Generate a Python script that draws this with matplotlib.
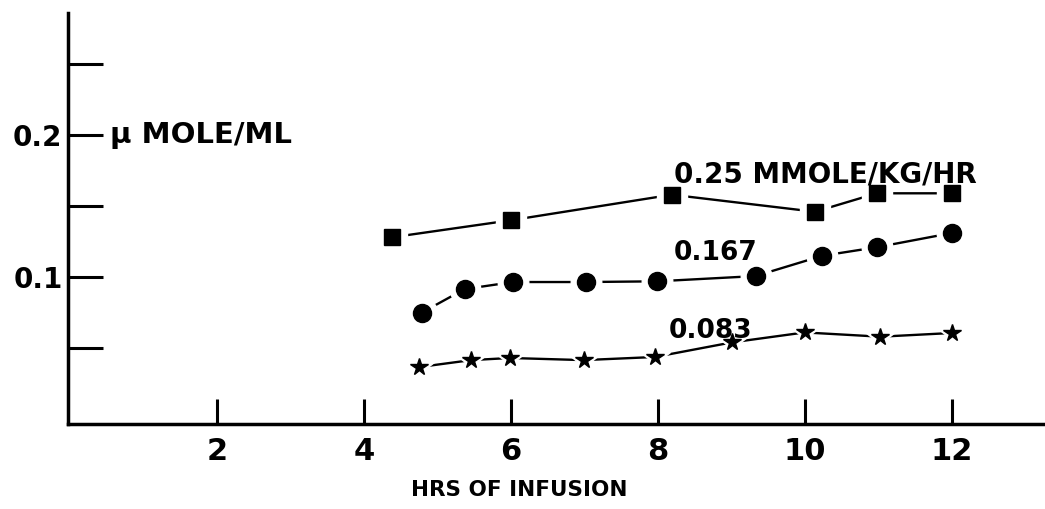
import numpy as np
import matplotlib.pyplot as plt

# hours of infusion and concentration (u mole/ml) for each dose
hrs_25 = [4.38, 6.0, 8.19, 10.14, 10.98, 12.0]
val_25 = [0.128, 0.140, 0.158, 0.146, 0.159, 0.159]

hrs_167 = [4.79, 5.37, 6.03, 7.02, 7.99, 9.33, 10.24, 10.98, 12.0]
val_167 = [0.075, 0.0915, 0.0965, 0.0965, 0.097, 0.1007, 0.115, 0.121, 0.131]

hrs_083 = [4.75, 5.46, 5.99, 6.99, 7.96, 9.01, 10.0, 11.03, 12.0]
val_083 = [0.0366, 0.0415, 0.043, 0.0415, 0.0437, 0.054, 0.061, 0.058, 0.0606]

x_ticks = [2, 4, 6, 8, 10, 12]
y_ticks = [0.05, 0.1, 0.15, 0.2, 0.25]
y_labels = ['', '0.1', '', '0.2', '']

fig = plt.figure(figsize=(10.45, 5.09), dpi=100)
ax = fig.add_axes([68 / 1045, 1 - 424 / 509, 1 - 68 / 1045, (424 - 13) / 509])

def draw(x, y, marker, size):
    ax.plot(x, y, '-', color='black', lw=1.7, zorder=2)
    # white halo so the line stops short of each marker, like the hand drawn original
    ax.plot(x, y, marker, ls='none', ms=size + 9, color='white', zorder=3)
    ax.plot(x, y, marker, ls='none', ms=size, color='black', zorder=4)

draw(hrs_25, val_25, 's', 12)
draw(hrs_167, val_167, 'o', 13)
draw(hrs_083, val_083, '*', 13)

ax.set_xlim(-0.027, 13.27)
ax.set_ylim(-0.0035, 0.286)

ax.spines['top'].set_visible(False)
ax.spines['right'].set_visible(False)
ax.spines['left'].set_linewidth(2.5)
ax.spines['bottom'].set_linewidth(2.5)

ax.set_xticks(x_ticks)
ax.set_xticklabels([str(t) for t in x_ticks], fontsize=22, fontweight='bold')
ax.tick_params(axis='x', direction='in', length=18, width=2.2, pad=9)
ax.set_yticks(y_ticks)
ax.set_yticklabels(y_labels, fontsize=20, fontweight='bold')
ax.tick_params(axis='y', direction='in', length=25, width=2.2, pad=4)

ax.text(6.12, -0.05, 'HRS OF INFUSION', fontsize=15.5, fontweight='bold',
        ha='center', va='center')

ax.text(0.55, 0.2, '\u03bc MOLE/ML', fontsize=21, fontweight='bold', va='center')
ax.text(8.22, 0.172, '0.25 MMOLE/KG/HR', fontsize=20, fontweight='bold', va='center')
ax.text(8.22, 0.117, '0.167', fontsize=19, fontweight='bold', va='center')
ax.text(8.15, 0.062, '0.083', fontsize=19, fontweight='bold', va='center')

fig.savefig('out.png', dpi=100)
